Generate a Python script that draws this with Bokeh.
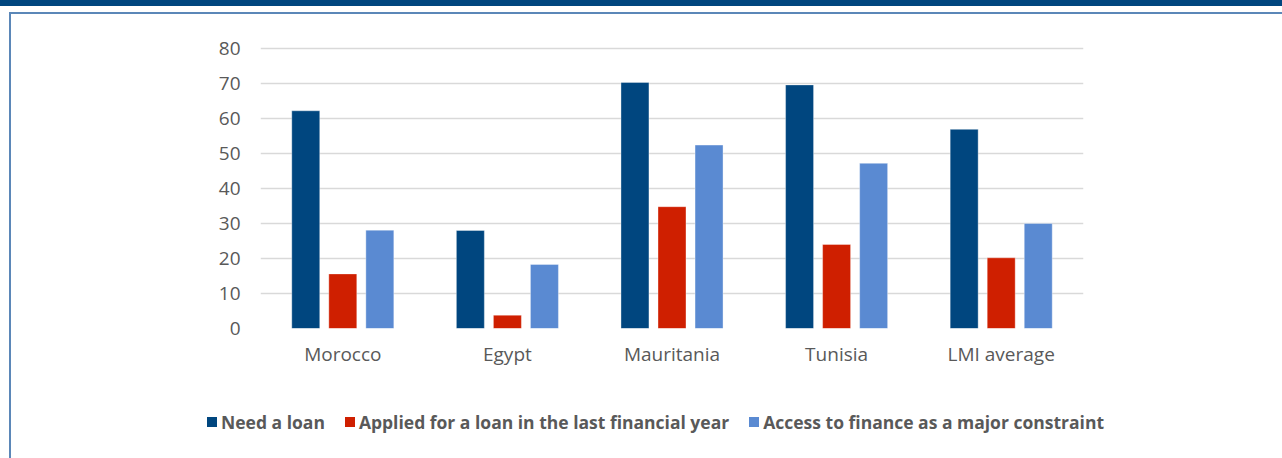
from bokeh.plotting import figure
from bokeh.layouts import column, row
from bokeh.models import (FactorRange, Range1d, ColumnDataSource, FixedTicker, Spacer, Div)
from bokeh.transform import dodge
from bokeh.embed import file_html
from bokeh.resources import INLINE

countries = ["Morocco", "Egypt", "Mauritania", "Tunisia", "LMI average"]
need_loan = [62.2, 28.0, 70.3, 69.6, 56.9]
applied_loan = [15.6, 3.8, 34.8, 24.0, 20.2]
access_constraint = [28.1, 18.3, 52.4, 47.2, 30.0]
series_names = ["Need a loan",
                "Applied for a loan in the last financial year",
                "Access to finance as a major constraint"]
series_fields = ["need", "applied", "access"]
series_colors = ["#00467f", "#cf1f00", "#5a8ad2"]
y_ticks = [0, 10, 20, 30, 40, 50, 60, 70, 80]

BAND = "#00467f"
FRAME = "#5b87b8"
CW = 1271          # content width inside the panel frame
MAIN_H, LEG_H = 381, 63

src = ColumnDataSource(dict(country=countries, need=need_loan,
                            applied=applied_loan, access=access_constraint))

p = figure(x_range=FactorRange(*countries, range_padding=0), y_range=Range1d(0, 80.57),
           width=CW, height=MAIN_H, output_backend="svg", toolbar_location=None,
           min_border_left=249, min_border_right=199, min_border_top=32, min_border_bottom=67)
p.outline_line_color = None
p.background_fill_color = "white"
p.border_fill_color = "white"

for field, off, col in zip(series_fields, [-0.225, 0.0, 0.225], series_colors):
    p.vbar(x=dodge("country", off, range=p.x_range), top=field, width=0.17, source=src,
           fill_color=col, line_color="white", line_width=0.6, line_alpha=0.6)

p.xgrid.grid_line_color = None
p.ygrid.grid_line_color = "#d9d9d9"
p.ygrid.grid_line_width = 1.6
p.yaxis.ticker = FixedTicker(ticks=y_ticks)

for ax in (p.xaxis[0], p.yaxis[0]):
    ax.axis_line_color = None
    ax.major_tick_line_color = None
    ax.minor_tick_line_color = None
    ax.major_label_text_font = "Open Sans"
    ax.major_label_text_font_size = "19px"
    ax.major_label_text_color = "#595959"
p.yaxis.major_label_standoff = 14
p.xaxis.major_label_standoff = 6

# legend underneath the chart (HTML text)
items_html = ""
for i, (name, col) in enumerate(zip(series_names, series_colors)):
    gap = "margin-left:20px;" if i > 0 else ""
    items_html += (f'<span style="display:inline-block;width:10px;height:10px;background:{col};'
                   f'margin-right:4px;{gap}"></span><span>{name}</span>')
legend_html = (
    '<div style="position:relative;width:%dpx;height:%dpx;">'
    '<div style="position:absolute;left:191px;top:10px;height:24px;display:flex;align-items:center;'
    'white-space:nowrap;font-family:\'Open Sans\';font-weight:bold;font-size:17.5px;'
    'line-height:24px;color:#595959;">%s</div></div>' % (CW, LEG_H, items_html))
legend_div = Div(text=legend_html, width=CW, height=LEG_H, styles={"background-color": "white"})

panel = column(
    Spacer(width=CW + 2, height=2, styles={"background-color": FRAME}),
    row(Spacer(width=2, height=MAIN_H + LEG_H, styles={"background-color": FRAME}),
        column(p, legend_div, spacing=0), spacing=0),
    spacing=0)

layout = column(
    Spacer(width=1282, height=6, styles={"background-color": BAND}),
    Spacer(width=1282, height=6),
    row(Spacer(width=9, height=MAIN_H + LEG_H + 2), panel, spacing=0),
    spacing=0)

open("out.html", "w").write(file_html(layout, INLINE))
